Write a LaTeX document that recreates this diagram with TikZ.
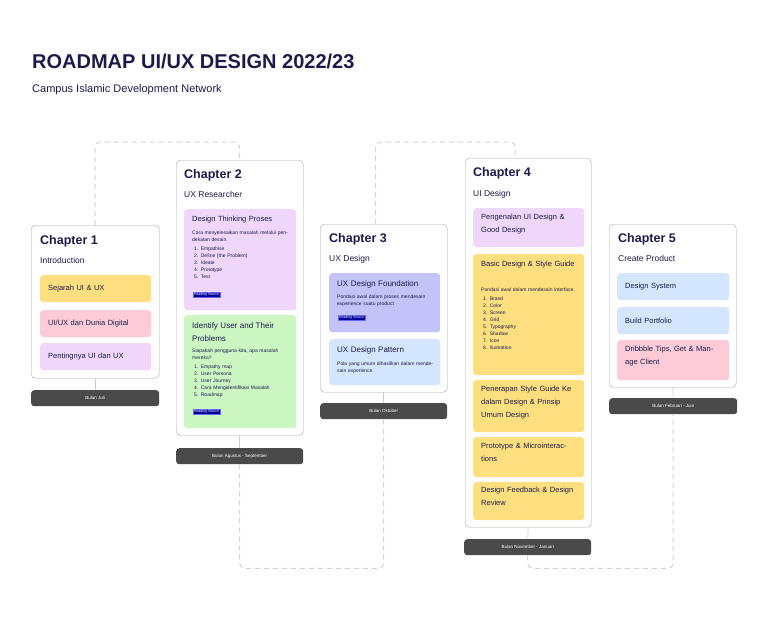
\documentclass[tikz,border=0pt]{standalone}
\usepackage{fontspec}
\setmainfont{Liberation Sans}
\definecolor{navy}{HTML}{1B1B4B}
\definecolor{lav}{HTML}{EFD7FB}
\definecolor{grn}{HTML}{CCF7C2}
\definecolor{yel}{HTML}{FDDF7F}
\definecolor{pnk}{HTML}{FDCBD8}
\definecolor{peri}{HTML}{C3C3FA}
\definecolor{lblue}{HTML}{D4E6FD}
\definecolor{foot}{HTML}{4A4A4A}
\begin{document}
\begin{tikzpicture}[x=1pt,y=-1pt,
  chap/.style={draw=gray!70,rounded corners=4pt,fill=white,anchor=north west,inner sep=0pt},
  card/.style={rounded corners=3pt,anchor=north west,inner sep=0pt},
  foot/.style={fill=foot,rounded corners=3pt,anchor=north west,inner sep=0pt,text=white,font=\fontsize{4.5}{5}\selectfont,align=center},
  ctitle/.style={anchor=north west,inner sep=0pt,font=\fontsize{12.5}{14}\selectfont\bfseries,text=navy},
  csub/.style={anchor=north west,inner sep=0pt,font=\fontsize{8.5}{10}\selectfont,text=navy},
  ktitle/.style={anchor=north west,inner sep=0pt,font=\fontsize{7.5}{13}\selectfont,text=navy,text width=#1,align=left},
  ktitle/.default=95pt,
  ksm/.style={anchor=north west,inner sep=0pt,font=\fontsize{5}{7}\selectfont,text=navy,text width=98pt,align=left},
  src/.style={anchor=north west,draw=blue!60,fill=blue!60!black,text=white,inner sep=0.8pt,font=\fontsize{3.5}{4}\selectfont},
  link/.style={draw=gray!35,line width=1pt,dash pattern=on 5pt off 4pt,rounded corners=5pt}]
\useasboundingbox (0,0) rectangle (768,619);
\node[anchor=north west,inner sep=0pt,font=\fontsize{20}{22}\selectfont\bfseries,text=navy] (title) at (32,54) {ROADMAP UI/UX DESIGN 2022/23};
\node[anchor=north west,inner sep=0pt,font=\fontsize{11}{13}\selectfont,text=navy] (sub) at (32,84) {Campus Islamic Development Network};

% chapter boxes
\node[chap,minimum width=128pt,minimum height=153pt] (c1) at (31,225) {};
\node[chap,minimum width=127pt,minimum height=275pt] (c2) at (176,160) {};
\node[chap,minimum width=127pt,minimum height=168pt] (c3) at (320,224) {};
\node[chap,minimum width=126pt,minimum height=369pt] (c4) at (465,158) {};
\node[chap,minimum width=127pt,minimum height=163pt] (c5) at (609,224) {};
% footers
\node[foot,minimum width=128pt,minimum height=16pt] (f1) at (31,390) {Bulan Juli};
\node[foot,minimum width=127pt,minimum height=16pt] (f2) at (176,448) {Bulan Agustus - September};
\node[foot,minimum width=127pt,minimum height=16pt] (f3) at (320,403) {Bulan Oktober};
\node[foot,minimum width=127pt,minimum height=16pt] (f4) at (464,539) {Bulan November - Januari};
\node[foot,minimum width=128pt,minimum height=16pt] (f5) at (609,398) {Bulan Februari - Juni};

% connectors
\draw[link] (c1.north) -- ++(0,-83) -| (c2.north);
\draw[link] (f2.south) -- ++(0,104) -| (f3.south);
\draw[link] (c3.north) ++(-8,0) coordinate (c3t) -- ++(0,-82) -| ([xshift=-13pt]c4.north);
\draw[link] (f4.south) -- ++(0,13) -| (f5.south);
\draw[gray!40,line width=0.6pt] (c2.south) -- (f2.north);
\draw[gray!40,line width=0.6pt] (c3.south) -- (f3.north);
\draw[gray!40,line width=0.6pt] (c4.south) -- (f4.north);
\draw[gray!40,line width=0.6pt] (c1.south) -- (f1.north);
\draw[gray!40,line width=0.6pt] (c5.south) -- (f5.north);

% chapter 1
\node[ctitle] (t1) at (40,235) {Chapter 1};
\node[csub] (s1) at (40,257) {Introduction};
\node[card,fill=yel,minimum width=111pt,minimum height=27pt] (a1) at (40,275) {};
\node[ktitle,anchor=west] at ([xshift=8pt]a1.west) {Sejarah UI \& UX};
\node[card,fill=pnk,minimum width=111pt,minimum height=27pt] (a2) at (40,310) {};
\node[ktitle,anchor=west] at ([xshift=8pt]a2.west) {UI/UX dan Dunia Digital};
\node[card,fill=lav,minimum width=111pt,minimum height=27pt] (a3) at (40,343) {};
\node[ktitle,anchor=west] at ([xshift=8pt]a3.west) {Pentingnya UI dan UX};

% chapter 2
\node[ctitle] (t2) at (184,169) {Chapter 2};
\node[csub] (s2) at (184,191) {UX Researcher};
\node[card,fill=lav,minimum width=112pt,minimum height=101pt] (b1) at (184,209) {};
\node[ktitle] at (192,216) {Design Thinking Proses};
\node[ksm] at (192,231) {Cara menyelesaikan masalah melalui pendekatan desain.\\[1.5pt]
\hspace*{2pt}1. Empathise\\\hspace*{2pt}2. Define (the Problem)\\\hspace*{2pt}3. Ideate\\\hspace*{2pt}4. Prototype\\\hspace*{2pt}5. Test};
\node[src] at (193,292) {Reading Source};
\node[card,fill=grn,minimum width=112pt,minimum height=113pt] (b2) at (184,315) {};
\node[ktitle] at (192,322) {\fontsize{8}{13}\selectfont Identify User and Their Problems};
\node[ksm] at (192,349) {Siapakah pengguna kita, apa masalah mereka?\\[1.5pt]
\hspace*{2pt}1. Empathy map\\\hspace*{2pt}2. User Persona\\\hspace*{2pt}3. User Journey\\\hspace*{2pt}4. Cara Mengidentifikasi Masalah\\\hspace*{2pt}5. Roadmap};
\node[src] at (193,409) {Reading Source};

% chapter 3
\node[ctitle] (t3) at (329,233) {Chapter 3};
\node[csub] (s3) at (329,255) {UX Design};
\node[card,fill=peri,minimum width=111pt,minimum height=59pt] (d1) at (329,273) {};
\node[ktitle] at (337,280) {\fontsize{8}{13}\selectfont UX Design Foundation};
\node[ksm] at (337,295) {Pondasi awal dalam proses mendesain experience suatu product};
\node[src] at (338,315) {Reading Source};
\node[card,fill=lblue,minimum width=111pt,minimum height=46pt] (d2) at (329,339) {};
\node[ktitle] at (337,346) {\fontsize{8}{13}\selectfont UX Design Pattern};
\node[ksm] at (337,362) {Pola yang umum dihasilkan dalam mendesain experience.};

% chapter 4
\node[ctitle] (t4) at (473,167) {Chapter 4};
\node[csub] (s4) at (473,190) {UI Design};
\node[card,fill=lav,minimum width=111pt,minimum height=39pt] (e1) at (473,208) {};
\node[ktitle] at (481,214) {Pengenalan UI Design \& Good Design};
\node[card,fill=yel,minimum width=111pt,minimum height=121pt] (e2) at (473,254) {};
\node[ktitle] at (481,261) {Basic Design \& Style Guide};
\node[ksm] at (481,288) {Pondasi awal dalam mendesain interface.\\[1.5pt]
\hspace*{2pt}1. Brand\\\hspace*{2pt}2. Color\\\hspace*{2pt}3. Screen\\\hspace*{2pt}4. Grid\\\hspace*{2pt}5. Typography\\\hspace*{2pt}6. Shadow\\\hspace*{2pt}7. Icon\\\hspace*{2pt}8. Ilustration};
\node[card,fill=yel,minimum width=111pt,minimum height=52pt] (e3) at (473,380) {};
\node[ktitle] at (481,386) {Penerapan Style Guide Ke dalam Design \& Prinsip Umum Design};
\node[card,fill=yel,minimum width=111pt,minimum height=40pt] (e4) at (473,437) {};
\node[ktitle] at (481,443) {Prototype \& Microinteractions};
\node[card,fill=yel,minimum width=111pt,minimum height=38pt] (e5) at (473,482) {};
\node[ktitle] at (481,487) {Design Feedback \& Design Review};

% chapter 5
\node[ctitle] (t5) at (618,233) {Chapter 5};
\node[csub] (s5) at (618,255) {Create Product};
\node[card,fill=lblue,minimum width=112pt,minimum height=27pt] (g1) at (617,273) {};
\node[ktitle,anchor=west] at ([xshift=8pt]g1.west) {Design System};
\node[card,fill=lblue,minimum width=112pt,minimum height=27pt] (g2) at (617,307) {};
\node[ktitle,anchor=west] at ([xshift=8pt]g2.west) {Build Portfolio};
\node[card,fill=pnk,minimum width=112pt,minimum height=40pt] (g3) at (617,340) {};
\node[ktitle] at (625,346) {Dribbble Tips, Get \& Manage Client};
\end{tikzpicture}
\end{document}
